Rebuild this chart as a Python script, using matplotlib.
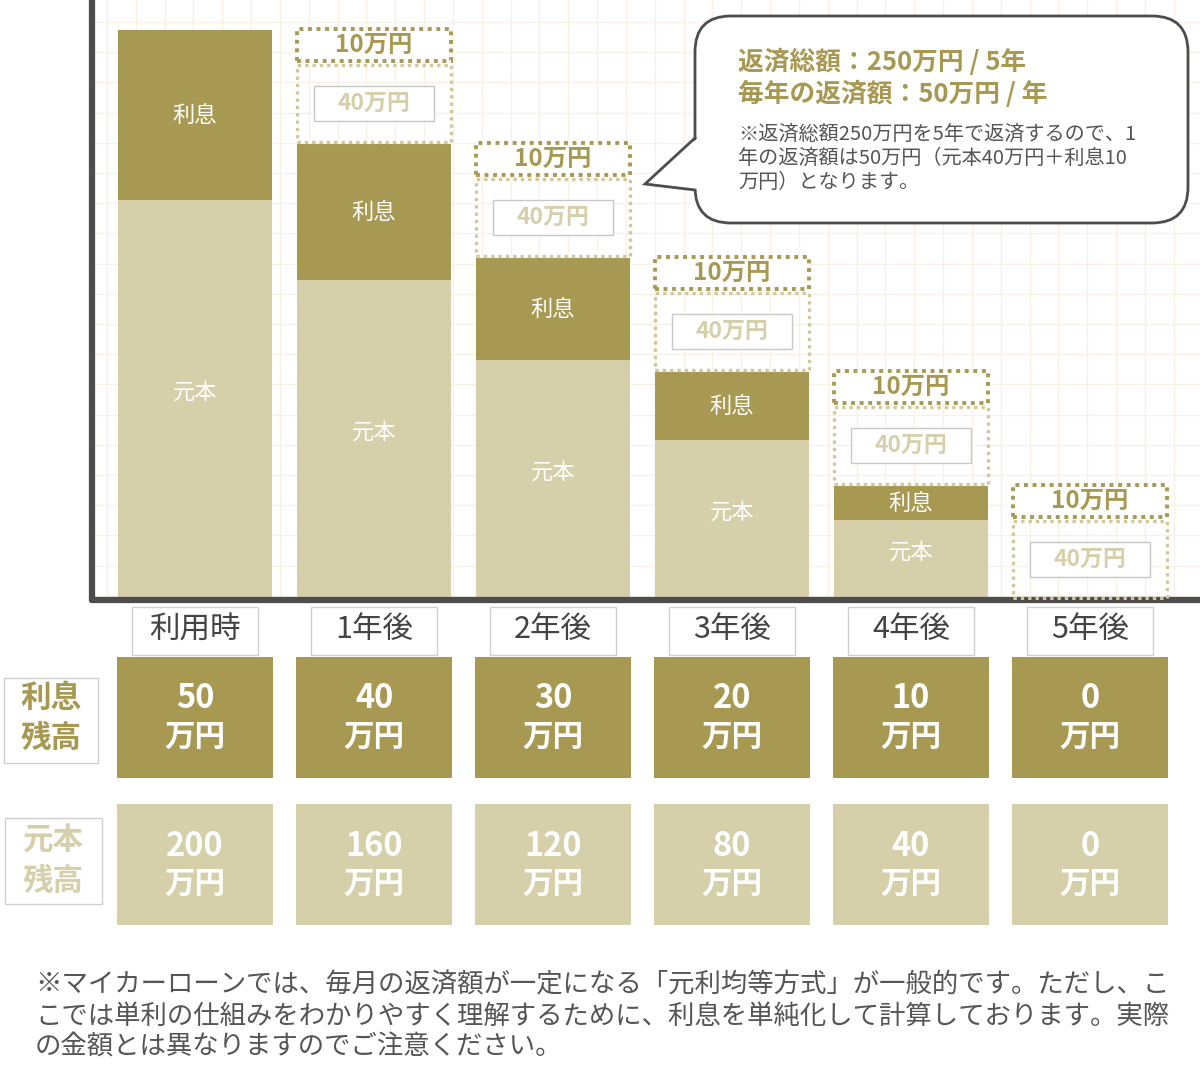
import numpy as np
import matplotlib.pyplot as plt
from matplotlib.patches import Rectangle, FancyBboxPatch, Polygon

plt.rcParams['font.family'] = ['Noto Sans CJK JP', 'DejaVu Sans']

# データ（単位：万円）
periods = ['利用時', '1年後', '2年後', '3年後', '4年後', '5年後']
interest = np.array([50, 40, 30, 20, 10, 0])
principal = np.array([200, 160, 120, 80, 40, 0])
paid_interest = 10
paid_principal = 40

row_labels = [('利息', '残高'), ('元本', '残高')]
title_lines = ['返済総額：250万円 / 5年', '毎年の返済額：50万円 / 年']
note_lines = ['※返済総額250万円を5年で返済するので、1',
              '年の返済額は50万円（元本40万円＋利息10',
              '万円）となります。']
foot_lines = ['※マイカーローンでは、毎月の返済額が一定になる「元利均等方式」が一般的です。ただし、こ',
              'こでは単利の仕組みをわかりやすく理解するために、利息を単純化して計算しております。実際',
              'の金額とは異なりますのでご注意ください。']

GOLD = '#a89952'
LIGHT = '#d5cfaa'
DOT_LIGHT = '#cfc89c'
GRID = '#f8f2e6'
DARK = '#4d4d4d'
TXT = '#555555'
ISCALE = 1.7   # 利息を見やすく強調

W, H = 1200, 1079
fig = plt.figure(figsize=(W / 100, H / 100), dpi=100)

# 背景の方眼
bg = fig.add_axes([0, 0, 1, 1])
bg.set_xlim(0, W)
bg.set_ylim(H, 0)
bg.axis('off')
for gx in np.arange(107, W, 28.83):
    bg.plot([gx, gx], [0, 598], color=GRID, lw=1.0, zorder=0)
for gy in np.arange(22, 598, 30.2):
    bg.plot([95, W], [gy, gy], color=GRID, lw=1.0, zorder=0)

# メインの棒グラフ
x = np.arange(len(periods))
step = 179.0
ax = fig.add_axes([92 / W, (H - 600) / H, (W - 92) / W, 600 / H], zorder=2)
ax.patch.set_alpha(0)
ax.set_xlim((92 - 195) / step, (W - 195) / step)
ax.set_ylim(0, 300)
for s in ['top', 'right']:
    ax.spines[s].set_visible(False)
for s in ['left', 'bottom']:
    ax.spines[s].set_linewidth(4.5)
    ax.spines[s].set_color(DARK)
    ax.spines[s].set_capstyle('round')
ax.set_xticks([])
ax.set_yticks([])

ax.bar(x, principal, width=0.86, color=LIGHT, zorder=2)
ax.bar(x, interest * ISCALE, bottom=principal, width=0.86, color=GOLD, zorder=2)

for i in x:
    if principal[i] > 0:
        ax.text(i, principal[i] / 2 + 4, '元本', color='white', fontsize=16,
                ha='center', va='center', zorder=3)
    if interest[i] > 0:
        ax.text(i, principal[i] + interest[i] * ISCALE / 2, '利息', color='white',
                fontsize=16, ha='center', va='center', zorder=3)

# 返済済み部分（点線の枠）
for i in x[1:]:
    base = principal[i] + interest[i] * ISCALE
    ax.bar(i, paid_principal - 1.5, bottom=base + 1, width=0.86, facecolor='none',
           edgecolor=DOT_LIGHT, linestyle=(0, (1, 1.2)), lw=2.4, zorder=3)
    ax.add_patch(Rectangle((i - 0.335, base + 11.5), 0.67, 17.5, facecolor='white',
                           edgecolor='#c8c8c8', lw=1, zorder=4))
    ax.text(i, base + 20.5, f'{paid_principal}万円', color=LIGHT, fontsize=16.5,
            fontweight='bold', ha='center', va='center', zorder=5)
    top = base + paid_principal + 1.5
    ax.bar(i, paid_interest * ISCALE - 1, bottom=top, width=0.86, facecolor='white',
           edgecolor=GOLD, linestyle=(0, (1, 1.2)), lw=2.8, zorder=3)
    ax.text(i, top + (paid_interest * ISCALE - 1) / 2, f'{paid_interest}万円', color=GOLD,
            fontsize=17.5, fontweight='bold', ha='center', va='center', zorder=5)

# 表
tb = fig.add_axes([92 / W, (H - 935) / H, (W - 92) / W, 335 / H], sharex=ax, zorder=2)
tb.set_ylim(935, 600)
tb.axis('off')
tb.bar(x, 48, bottom=607, width=0.7, color='white', edgecolor='#cfcfcf', lw=1)
tb.bar(x, 121, bottom=657, width=0.87, color=GOLD)
tb.bar(x, 121, bottom=804, width=0.87, color=LIGHT)
for i in x:
    tb.text(i, 630, periods[i], color='#444444', fontsize=22, ha='center', va='center')
    tb.text(i, 699, str(interest[i]), color='white', fontsize=23.5, fontweight='bold',
            ha='center', va='center')
    tb.text(i, 737, '万円', color='white', fontsize=22, fontweight='bold',
            ha='center', va='center')
    tb.text(i, 846, str(principal[i]), color='white', fontsize=23.5, fontweight='bold',
            ha='center', va='center')
    tb.text(i, 884, '万円', color='white', fontsize=22, fontweight='bold',
            ha='center', va='center')

# 前面（吹き出し・見出し・注記）
fg = fig.add_axes([0, 0, 1, 1], zorder=5)
fg.patch.set_alpha(0)
fg.set_xlim(0, W)
fg.set_ylim(H, 0)
fg.axis('off')

fg.add_patch(Rectangle((4, 678), 94, 85, facecolor='white', edgecolor='#d0d0d0', lw=1))
fg.add_patch(Rectangle((5, 818), 97, 86, facecolor='white', edgecolor='#d0d0d0', lw=1))
for (l1, l2), yc, col, xc in zip(row_labels, [718, 861], [GOLD, LIGHT], [51, 53]):
    fg.text(xc, yc - 20, l1, color=col, fontsize=22, fontweight='bold', ha='center', va='center')
    fg.text(xc, yc + 20, l2, color=col, fontsize=22, fontweight='bold', ha='center', va='center')

box = FancyBboxPatch((695, 16), 493, 207, boxstyle='round,pad=0,rounding_size=36',
                     facecolor='white', edgecolor=DARK, lw=2)
fg.add_patch(box)
fg.add_patch(Polygon([(698, 138), (645, 184), (698, 190)], closed=True,
                     facecolor='white', edgecolor='none', zorder=3))
fg.plot([695, 645, 695], [138, 184, 190], color=DARK, lw=2, zorder=4,
        solid_joinstyle='miter')
for k, t in enumerate(title_lines):
    fg.text(738, 62 + 32 * k, t, color=GOLD, fontsize=18.5, fontweight='bold',
            ha='left', va='center', zorder=5)
for k, t in enumerate(note_lines):
    fg.text(738, 134 + 24 * k, t, color=TXT, fontsize=14.5, ha='left', va='center', zorder=5)

for k, t in enumerate(foot_lines):
    fg.text(35, 985 + 31 * k, t, color=TXT, fontsize=19, ha='left', va='center')

fig.savefig('out.png', dpi=100, facecolor='white')
